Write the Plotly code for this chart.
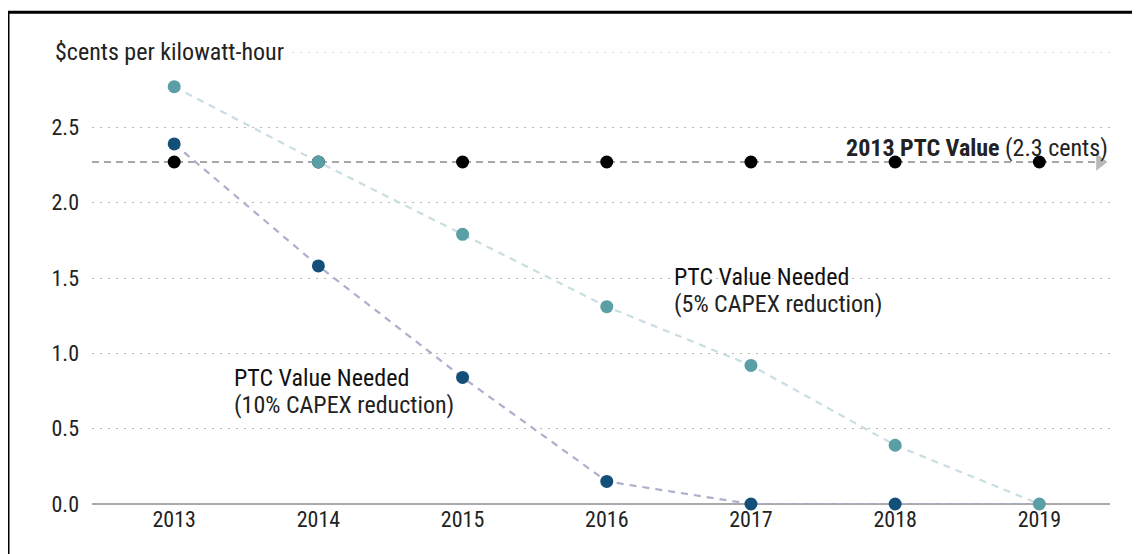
import plotly.graph_objects as go

years = [2013, 2014, 2015, 2016, 2017, 2018, 2019]
ptc_2013 = [2.27, 2.27, 2.27, 2.27, 2.27, 2.27, 2.27]
needed_5pct = [2.77, 2.27, 1.79, 1.31, 0.92, 0.39, 0.0]
needed_10pct = [2.39, 1.58, 0.84, 0.15, 0.0, 0.0, 0.0]
y_ticks = [0.0, 0.5, 1.0, 1.5, 2.0, 2.5]
y_ticktext = ["0.0", "0.5", "1.0", "1.5", "2.0", "2.5"]
x_range = [2012.43, 2019.49]
arrow_x = 2019.42

FONT = "Roboto Condensed, Liberation Sans Narrow, Arial Narrow, sans-serif"
FS = 23

fig = go.Figure()

# 2013 PTC reference dashed line with arrow
fig.add_trace(go.Scatter(
    x=[x_range[0], arrow_x], y=[ptc_2013[0], ptc_2013[0]], mode="lines",
    line=dict(color="#a8a8a8", width=1.8, dash="7px,5px"), hoverinfo="skip", showlegend=False))
fig.add_trace(go.Scatter(
    x=[arrow_x], y=[ptc_2013[0]], mode="markers",
    marker=dict(symbol="triangle-right", size=15, color="#b8b8b8"), hoverinfo="skip",
    showlegend=False, cliponaxis=False))

# 5% series
fig.add_trace(go.Scatter(
    x=years, y=needed_5pct, mode="lines",
    line=dict(color="#c9dde2", width=2.2, dash="7px,6px"), showlegend=False, hoverinfo="skip"))
# 10% series
fig.add_trace(go.Scatter(
    x=years, y=needed_10pct, mode="lines",
    line=dict(color="#abb0cc", width=2.2, dash="7px,6px"), showlegend=False, hoverinfo="skip"))

fig.add_trace(go.Scatter(
    x=years, y=ptc_2013, mode="markers",
    marker=dict(color="#000000", size=13, line=dict(width=0)), cliponaxis=False,
    name="2013 PTC Value", showlegend=False))
fig.add_trace(go.Scatter(
    x=years[:-1], y=needed_10pct[:-1], mode="markers",
    marker=dict(color="#134f78", size=13, line=dict(width=0)), cliponaxis=False,
    name="PTC Value Needed (10%)", showlegend=False))
fig.add_trace(go.Scatter(
    x=years, y=needed_5pct, mode="markers",
    marker=dict(color="#5a9ea6", size=13, line=dict(width=0)), cliponaxis=False,
    name="PTC Value Needed (5%)", showlegend=False))

# top gridline at 3.0 (partially covered by unit label)
fig.add_shape(type="line", xref="x", yref="y", x0=x_range[0], x1=x_range[1], y0=3.0, y1=3.0,
              line=dict(color="#b8b8b8", width=1.2, dash="2px,6px"), layer="below")

fig.add_annotation(xref="paper", yref="y", x=-0.041, y=3.0, xanchor="left", yanchor="middle",
                   text="$cents per kilowatt-hour", showarrow=False, bgcolor="white",
                   font=dict(family=FONT, size=FS + 1, color="#222"), borderpad=4)

fig.add_annotation(xref="x", yref="y", x=2019.49, y=2.27, xanchor="right", yanchor="bottom",
                   yshift=-2, text="<b>2013 PTC Value</b> (2.3 cents)", showarrow=False,
                   font=dict(family=FONT, size=FS + 1, color="#222"))
fig.add_annotation(xref="x", yref="y", x=2016.45, y=1.505, xanchor="left", yanchor="middle",
                   text="PTC Value Needed", showarrow=False,
                   font=dict(family=FONT, size=FS + 1, color="#111"))
fig.add_annotation(xref="x", yref="y", x=2016.45, y=1.33, xanchor="left", yanchor="middle",
                   text="(5% CAPEX reduction)", showarrow=False,
                   font=dict(family=FONT, size=FS + 1, color="#222"))
fig.add_annotation(xref="x", yref="y", x=2013.40, y=0.835, xanchor="left", yanchor="middle",
                   text="PTC Value Needed", showarrow=False,
                   font=dict(family=FONT, size=FS + 1, color="#111"))
fig.add_annotation(xref="x", yref="y", x=2013.40, y=0.66, xanchor="left", yanchor="middle",
                   text="(10% CAPEX reduction)", showarrow=False,
                   font=dict(family=FONT, size=FS + 1, color="#222"))

# outer frame
fig.add_shape(type="rect", xref="paper", yref="paper", x0=-0.0825, x1=1.1, y0=-0.3, y1=1.088,
              line=dict(color="#000", width=3), layer="above")

fig.update_layout(
    width=1140, height=554,
    margin=dict(l=84, r=38, t=44, b=58),
    paper_bgcolor="white", plot_bgcolor="white",
    font=dict(family=FONT, size=FS, color="#222"),
    xaxis=dict(range=x_range, tickmode="array", tickvals=years, ticktext=[str(y) for y in years],
               showgrid=False, zeroline=False, showline=False, ticks="", ticklen=0,
               tickfont=dict(family=FONT, size=FS - 1, color="#222")),
    yaxis=dict(range=[0, 3.0], tickmode="array", tickvals=y_ticks, ticktext=y_ticktext,
               showgrid=True, gridcolor="#b8b8b8", griddash="2px,6px", gridwidth=1.2,
               zeroline=True, zerolinecolor="#aaaaaa", zerolinewidth=1.5,
               showline=False, ticks="", ticklabelstandoff=12,
               tickfont=dict(family=FONT, size=FS - 1, color="#222")),
)

fig.write_html("out.html")
